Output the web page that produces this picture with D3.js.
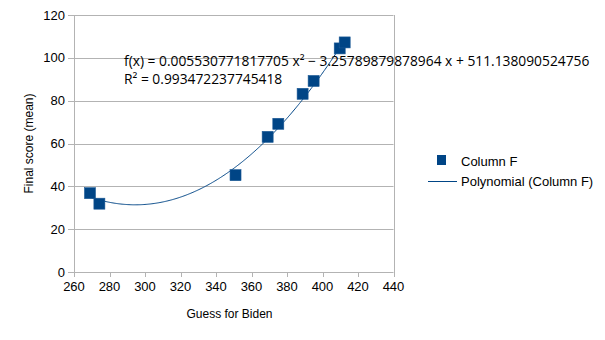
<!DOCTYPE html>
<html>
<head>
<meta charset="utf-8">
<script src="https://cdn.jsdelivr.net/npm/d3@7"></script>
<style>
  body { margin: 0; background: #fff; }
  text { font-family: "Liberation Sans", Arial, sans-serif; }
</style>
</head>
<body>
<script>
// values
const guess = [269.0, 274.3, 351.0, 369.1, 375.1, 388.8, 395.0, 409.7, 412.5];
const score = [36.8, 31.9, 45.2, 63.1, 69.2, 83.2, 89.2, 104.4, 107.2];
const xTicks = [260, 280, 300, 320, 340, 360, 380, 400, 420, 440];
const yTicks = [0, 20, 40, 60, 80, 100, 120];
// trendline coefficients as printed on the chart
const coef = [511.138090524756, -3.25789879878964, 0.005530771817705];
const eqText = "f(x) = 0.005530771817705 x² − 3.25789879878964 x + 511.138090524756";
const r2Text = "R² = 0.993472237745418";

const W = 605, H = 340;
const margin = {top: 15, left: 74, right: 212, bottom: 68};

const svg = d3.select("body").append("svg")
    .attr("width", W)
    .attr("height", H);

const x = d3.scaleLinear().domain([260, 440]).range([margin.left, W - margin.right + 0.5]);
const y = d3.scaleLinear().domain([0, 120]).range([H - margin.bottom, margin.top]);

const grid = "#b3b3b3";

// horizontal grid lines
svg.append("g").selectAll("line")
    .data(yTicks)
    .join("line")
    .attr("x1", x(260) - 6).attr("x2", x(440))
    .attr("y1", d => Math.round(y(d)) + 0.5).attr("y2", d => Math.round(y(d)) + 0.5)
    .attr("stroke", grid);

// left axis line and right border
svg.append("line")
    .attr("x1", Math.round(x(260)) + 0.5).attr("x2", Math.round(x(260)) + 0.5)
    .attr("y1", y(120)).attr("y2", y(0) + 5)
    .attr("stroke", grid);
svg.append("line")
    .attr("x1", Math.round(x(440)) + 0.5).attr("x2", Math.round(x(440)) + 0.5)
    .attr("y1", y(120)).attr("y2", y(0) + 5)
    .attr("stroke", grid);

// x ticks
svg.append("g").selectAll("line")
    .data(xTicks)
    .join("line")
    .attr("x1", d => Math.round(x(d)) + 0.5).attr("x2", d => Math.round(x(d)) + 0.5)
    .attr("y1", y(0)).attr("y2", y(0) + 5)
    .attr("stroke", grid);

svg.append("g").selectAll("text")
    .data(xTicks)
    .join("text")
    .attr("x", d => x(d))
    .attr("y", y(0) + 19)
    .attr("text-anchor", "middle")
    .attr("font-size", 13)
    .attr("fill", "#000")
    .text(d => d);

svg.append("g").selectAll("text")
    .data(yTicks)
    .join("text")
    .attr("x", x(260) - 9)
    .attr("y", d => y(d) + 4.5)
    .attr("text-anchor", "end")
    .attr("font-size", 13)
    .attr("fill", "#000")
    .text(d => d);

// axis titles
svg.append("text")
    .attr("x", 229.5)
    .attr("y", 318)
    .attr("text-anchor", "middle")
    .attr("font-size", 12)
    .text("Guess for Biden");

svg.append("text")
    .attr("transform", "translate(33," + ((y(0) + y(120)) / 2) + ") rotate(-90)")
    .attr("text-anchor", "middle")
    .attr("font-size", 12)
    .text("Final score (mean)");

// trendline from the printed polynomial
const poly = v => coef[0] + coef[1] * v + coef[2] * v * v;
const xs = d3.range(d3.min(guess), d3.max(guess) + 0.01, 0.5);
svg.append("path")
    .datum(xs)
    .attr("fill", "none")
    .attr("stroke", "#004586")
    .attr("stroke-width", 1)
    .attr("d", d3.line().x(d => x(d)).y(d => y(poly(d))));

// points
const pts = guess.map((g, i) => ({g: g, s: score[i]}));
const size = 11;
svg.append("g").selectAll("rect")
    .data(pts)
    .join("rect")
    .attr("x", d => x(d.g) - size / 2)
    .attr("y", d => y(d.s) - size / 2)
    .attr("width", size).attr("height", size)
    .attr("fill", "#004586")
    .attr("stroke", "#1c5a96")
    .attr("stroke-width", 0.6);

// equation
const eq = svg.append("g")
    .attr("font-size", 13.8);
eq.append("text").attr("x", 124).attr("y", 65.5).style("font-family", "'Open Sans', sans-serif").text(eqText);
eq.append("text").attr("x", 124).attr("y", 84).style("font-family", "'Open Sans', sans-serif").text(r2Text);

// legend
svg.append("rect")
    .attr("x", 437).attr("y", 155)
    .attr("width", 9).attr("height", 10)
    .attr("fill", "#004586");
svg.append("text")
    .attr("x", 461).attr("y", 165.5)
    .attr("font-size", 13)
    .text("Column F");
svg.append("line")
    .attr("x1", 428).attr("x2", 457)
    .attr("y1", 181.5).attr("y2", 181.5)
    .attr("stroke", "#004586");
svg.append("text")
    .attr("x", 461).attr("y", 186)
    .attr("font-size", 13)
    .text("Polynomial (Column F)");
</script>
</body>
</html>
